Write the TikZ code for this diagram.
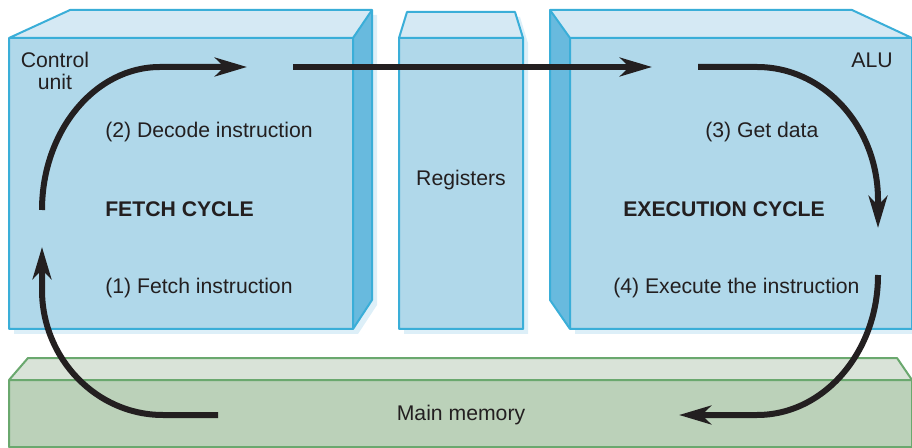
\documentclass[tikz,border=0pt]{standalone}
\usepackage{fontspec}
\setmainfont{Liberation Sans}
\usetikzlibrary{arrows.meta}

\definecolor{ink}{HTML}{231F20}
\definecolor{bluefront}{HTML}{B0D8EA}
\definecolor{bluetop}{HTML}{D5E9F4}
\definecolor{blueside}{HTML}{68BADE}
\definecolor{blueedge}{HTML}{3AAED8}
\definecolor{blueshadow}{HTML}{DDEFF8}
\definecolor{greenfront}{HTML}{BBD1B9}
\definecolor{greentop}{HTML}{D9E3D8}
\definecolor{greenedge}{HTML}{6AA86E}

\begin{document}
\begin{tikzpicture}[x=0.75pt, y=-0.75pt,
    lbl/.style={font=\fontsize{15.9}{16.5}\selectfont, text=ink, inner sep=0pt},
    bluebox/.style={draw=blueedge, line width=1.5pt, line join=round},
    greenbox/.style={draw=greenedge, line width=1.5pt, line join=round},
    cyc/.style={draw=ink, line width=4.5pt,
        -{Stealth[length=24pt, width=14pt, inset=7pt]}}]
    \useasboundingbox (0, 0) rectangle (912, 448);

    % faint shadows
    \fill[blueshadow]
        (14, 43) -- (75, 15) -- (377, 15) -- (377, 305) -- (358, 334) -- (14, 334) -- cycle
        (404, 43) -- (412, 17) -- (520, 17) -- (528, 43) -- (528, 334) -- (404, 334) -- cycle
        (575, 43) -- (575, 334) -- (917, 334) -- (917, 43) -- cycle;

    % control unit
    \fill[bluefront] (9, 38) rectangle (353, 329);
    \fill[bluetop] (9, 38) -- (70, 10) -- (372, 10) -- (353, 38) -- cycle;
    \fill[blueside] (353, 38) -- (372, 10) -- (372, 300) -- (353, 329) -- cycle;
    \draw[bluebox]
        (9, 38) rectangle (353, 329)
        (9, 38) -- (70, 10) -- (372, 10) -- (353, 38)
        (372, 10) -- (372, 300) -- (353, 329);

    % registers
    \fill[bluefront] (399, 38) rectangle (523, 329);
    \fill[bluetop] (399, 38) -- (407, 12) -- (515, 12) -- (523, 38) -- cycle;
    \draw[bluebox]
        (399, 38) rectangle (523, 329)
        (399, 38) -- (407, 12) -- (515, 12) -- (523, 38);

    % ALU
    \fill[bluefront] (570, 38) rectangle (912, 329);
    \fill[bluetop] (570, 38) -- (550, 10) -- (852, 10) -- (912, 38) -- cycle;
    \fill[blueside] (570, 38) -- (550, 10) -- (550, 300) -- (570, 329) -- cycle;
    \draw[bluebox]
        (570, 38) rectangle (912, 329)
        (570, 38) -- (550, 10) -- (852, 10) -- (912, 38)
        (550, 10) -- (550, 300) -- (570, 329);

    % main memory
    \fill[greenfront] (9, 380) rectangle (912, 447);
    \fill[greentop] (9, 380) -- (28, 358) -- (897, 358) -- (912, 380) -- cycle;
    \draw[greenbox]
        (9, 380) rectangle (912, 447)
        (9, 380) -- (28, 358) -- (897, 358) -- (912, 380);

    % labels (placed on their baselines)
    \node[lbl, align=center, anchor=base] (ctrl) at (55, 90) {Control\\unit};
    \node[lbl, anchor=base] (alu) at (872, 68) {ALU};
    \node[lbl, anchor=base] (regs) at (461, 186) {Registers};
    \node[lbl, anchor=base] (mem) at (461, 420) {Main memory};
    \path
        \foreach \n/\p/\t in {
            decode/{105, 138}/{(2) Decode instruction},
            fetchcyc/{105, 217}/{\textbf{FETCH CYCLE}},
            fetch/{105, 294}/{(1) Fetch instruction},
            getdata/{705, 138}/{(3) Get data},
            execcyc/{623, 217}/{\textbf{EXECUTION CYCLE}},
            execute/{613, 294}/{(4) Execute the instruction}
        } {
            (\p) node[lbl, anchor=base west] (\n) {\t}
        };

    % cycle arrows
    \coordinate (fetchup) at (42, 210);
    \coordinate (decodein) at (247, 67);
    \coordinate (decodeout) at (293, 67);
    \coordinate (aluin) at (652, 67);
    \coordinate (aluout) at (698, 67);
    \coordinate (getdown) at (878, 228);
    \coordinate (execdown) at (878, 275);
    \coordinate (memin) at (679, 415);
    \coordinate (memout) at (218, 415);
    \coordinate (fetchin) at (42, 247);

    \draw[cyc] (fetchup) .. controls (42, 131) and (95, 67) .. (160, 67) -- (decodein);
    \draw[cyc] (decodeout) -- (aluin);
    \draw[cyc] (aluout) -- (757, 67) .. controls (824, 67) and (878, 127) .. (878, 200) -- (getdown);
    \draw[cyc] (execdown) .. controls (878, 352) and (824, 415) .. (757, 415) -- (memin);
    \draw[cyc] (memout) -- (163, 415) .. controls (96, 415) and (42, 358) .. (42, 290) -- (fetchin);
\end{tikzpicture}
\end{document}
